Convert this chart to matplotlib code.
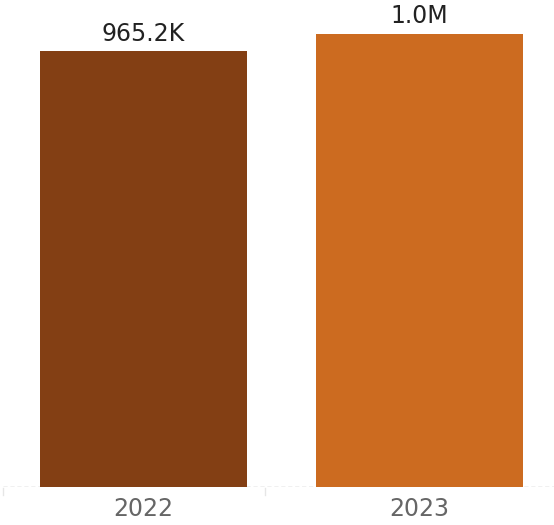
import matplotlib.pyplot as plt

years = ['2022', '2023']
totals = [965200, 1003000]
labels = ['965.2K', '1.0M']
colors = ['#833F14', '#CC6B20']

fig = plt.figure(figsize=(5.54, 5.25), dpi=100)
# axes spans px 3..554 horizontally, baseline at 487 px from top
ax = fig.add_axes([3 / 554, 38 / 525, 551 / 554, 487 / 525])

x = [0, 1]
ax.bar(x, totals, width=0.75, color=colors, zorder=2)
for xi, v, lab in zip(x, totals, labels):
    ax.annotate(lab, (xi, v), xytext=(0, 4), textcoords='offset points',
                ha='center', va='bottom', fontsize=17, color='#222222')

ax.set_xlim((3 - 143.5) / 276, (554 - 143.5) / 276)
ax.set_ylim(0, 487 / 453 * totals[1])
ax.axhline(0, color='#b4b4b4', linestyle=(0, (3, 2)), linewidth=1, zorder=1)

# faint header separators below the baseline
for px in (3.5, 264.5):
    fig.add_artist(plt.Line2D([px / 554] * 2, [30 / 525, 37 / 525],
                              color='#e6e6e6', linewidth=1))

for s in ax.spines.values():
    s.set_visible(False)
ax.set_yticks([])
ax.set_xticks(x)
ax.set_xticklabels(years, fontsize=17, color='#666666')
ax.tick_params(axis='x', length=0, pad=7)

fig.savefig('out.png', dpi=100)
